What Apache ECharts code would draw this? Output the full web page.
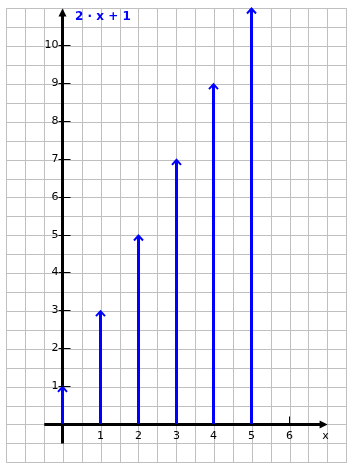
<!DOCTYPE html>
<html>
<head>
<meta charset="utf-8">
<script src="https://cdn.jsdelivr.net/npm/echarts@6/dist/echarts.min.js"></script>
<style>
html,body{margin:0;padding:0;background:#fff;}
#chart{width:352px;height:471px;}
</style>
</head>
<body>
<div id="chart"></div>
<script>
// Data
const xValues = [0, 1, 2, 3, 4, 5];
const yValues = [1, 3, 5, 7, 9, 11];
const xTicks = [1, 2, 3, 4, 5, 6];
const xTickLabels = ['1', '2', '3', '4', '5', '6'];
const yTicks = [1, 2, 3, 4, 5, 6, 7, 8, 9, 10];
const yTickLabels = ['1', '2', '3', '4', '5', '6', '7', '8', '9', '10'];
const xAxisName = 'x';
const formulaText = '2 · x + 1';
const xRange = [-1.5, 7.5];
const yRange = [-1, 11];
const axisXExtent = [-0.5, 7];
const axisYExtent = [-0.5, 11];

const chart = echarts.init(document.getElementById('chart'), null, {renderer: 'canvas'});
const crisp = v => Math.round(v) - 0.5;
const FONT = '11px "DejaVu Sans", Verdana, sans-serif';

const option = {
  backgroundColor: '#ffffff',
  animation: false,
  title: {
    text: formulaText,
    left: 70, top: 6,
    textStyle: {color: '#0000ff', fontWeight: 'bold', fontSize: 12, fontFamily: '"DejaVu Sans", Verdana, sans-serif'}
  },
  grid: {left: 6.5, top: 8.5, width: 340, height: 454, show: true, borderColor: '#c0c0c0', borderWidth: 1},
  xAxis: {
    type: 'value', min: xRange[0], max: xRange[1], interval: 0.5,
    axisLine: {show: false}, axisTick: {show: false}, axisLabel: {show: false},
    splitLine: {show: true, lineStyle: {color: '#c0c0c0', width: 1}}
  },
  yAxis: {
    type: 'value', min: yRange[0], max: yRange[1], interval: 0.5,
    axisLine: {show: false}, axisTick: {show: false}, axisLabel: {show: false},
    splitLine: {show: true, lineStyle: {color: '#c0c0c0', width: 1}}
  },
  series: [
    {
      type: 'custom', name: 'axes', clip: false, z: 3,
      data: [[0, 0]],
      renderItem: function (params, api) {
        const xs = api.coord([axisXExtent[0], 0]);
        const xe = api.coord([axisXExtent[1], 0]);
        const ys = api.coord([0, axisYExtent[0]]);
        const ye = api.coord([0, axisYExtent[1]]);
        const ay = crisp(xs[1]);
        const ax = crisp(ys[0]);
        const tipX = xe[0], tipY = ye[1];
        return {
          type: 'group',
          children: [
            {type: 'line', shape: {x1: xs[0], y1: ay, x2: tipX - 6, y2: ay}, style: {stroke: '#000', lineWidth: 3}},
            {type: 'polygon', shape: {points: [[tipX, ay], [tipX - 8, ay - 4], [tipX - 8, ay + 4]]}, style: {fill: '#000'}},
            {type: 'line', shape: {x1: ax, y1: ys[1], x2: ax, y2: tipY + 6}, style: {stroke: '#000', lineWidth: 3}},
            {type: 'polygon', shape: {points: [[ax, tipY], [ax - 4, tipY + 8], [ax + 4, tipY + 8]]}, style: {fill: '#000'}},
            {type: 'text', x: tipX - 2, y: ay + 12, style: {text: xAxisName, font: FONT, fill: '#000', align: 'center', verticalAlign: 'middle'}}
          ]
        };
      }
    },
    {
      type: 'custom', name: 'xticks', clip: false, z: 3,
      data: xTicks.map((v, i) => [v, 0, i]),
      renderItem: function (params, api) {
        const p = api.coord([api.value(0), 0]);
        const x = crisp(p[0]), y = crisp(p[1]);
        return {
          type: 'group',
          children: [
            {type: 'line', shape: {x1: x, y1: y, x2: x, y2: y - 8}, style: {stroke: '#000', lineWidth: 1}},
            {type: 'text', x: x, y: y + 12, style: {text: xTickLabels[api.value(2)], font: FONT, fill: '#000', align: 'center', verticalAlign: 'middle'}}
          ]
        };
      }
    },
    {
      type: 'custom', name: 'yticks', clip: false, z: 5,
      data: yTicks.map((v, i) => [0, v, i]),
      renderItem: function (params, api) {
        const p = api.coord([0, api.value(1)]);
        const x = crisp(p[0]), y = crisp(p[1]);
        return {
          type: 'group',
          children: [
            {type: 'line', shape: {x1: x - 4, y1: y, x2: x + 8, y2: y}, style: {stroke: '#000', lineWidth: 1}},
            {type: 'text', x: x - 4, y: y, style: {text: yTickLabels[api.value(2)], font: FONT, fill: '#000', align: 'right', verticalAlign: 'middle'}}
          ]
        };
      }
    },
    {
      type: 'custom', name: '2x+1', clip: false, z: 4,
      data: xValues.map((v, i) => [v, yValues[i]]),
      renderItem: function (params, api) {
        const p0 = api.coord([api.value(0), 0]);
        const p1 = api.coord([api.value(0), api.value(1)]);
        const x = crisp(p0[0]);
        return {
          type: 'group',
          children: [
            {type: 'line', shape: {x1: x, y1: p0[1] - 1, x2: x, y2: p1[1] + 1}, style: {stroke: '#0000ff', lineWidth: 3}},
            {type: 'polyline', shape: {points: [[x - 4.5, p1[1] + 5], [x, p1[1]], [x + 4.5, p1[1] + 5]]}, style: {stroke: '#0000ff', lineWidth: 2, fill: null}}
          ]
        };
      }
    }
  ]
};
chart.setOption(option);
</script>
</body>
</html>
